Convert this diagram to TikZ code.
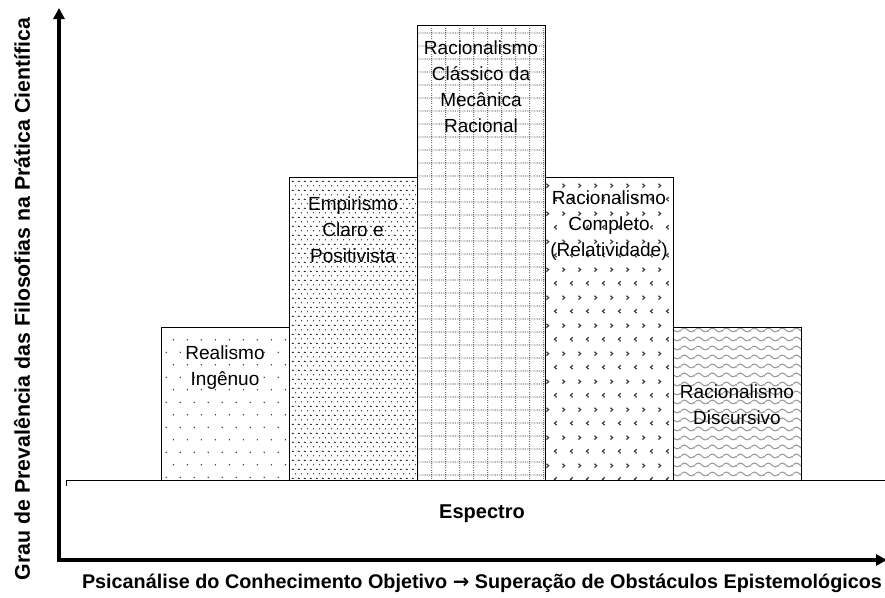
\documentclass[tikz,border=0pt]{standalone}
\usepackage{fontspec}
\setmainfont{Liberation Sans}
\newfontfamily\arrowfont{DejaVu Sans}
\usetikzlibrary{patterns.meta,arrows.meta}

% fill patterns for the five bars
\tikzdeclarepattern{
  name=sparsedots, type=colored,
  bottom left={(0pt,0pt)}, top right={(14.2pt,25.4pt)},
  tile size={(14.2pt,25.4pt)},
  code={
    \path[fill=black!80] (3.55pt,6.35pt) circle[radius=0.8pt]
                         (10.65pt,19.05pt) circle[radius=0.8pt];
  }
}
\tikzdeclarepattern{
  name=densedots, type=colored,
  bottom left={(0pt,0pt)}, top right={(6.4pt,9.4pt)},
  tile size={(6.4pt,9.4pt)},
  code={
    \path[fill=black!85] (1.6pt,2.35pt) circle[radius=0.75pt]
                         (4.8pt,7.05pt) circle[radius=0.75pt];
  }
}
\tikzdeclarepattern{
  name=dotgrid, type=colored,
  bottom left={(0pt,0pt)}, top right={(14.2pt,13pt)},
  tile size={(14.2pt,13pt)},
  code={
    \path[draw=black!85, line width=0.9pt, dash pattern=on 0.9pt off 1.1pt]
      (0pt,6.5pt) -- (14.2pt,6.5pt);
    \path[draw=black!85, line width=0.9pt, dash pattern=on 0.9pt off 1.267pt]
      (7.1pt,0pt) -- (7.1pt,13pt);
  }
}
\tikzdeclarepattern{
  name=chevrons, type=colored,
  bottom left={(0pt,0pt)}, top right={(16pt,28pt)},
  tile size={(16pt,28pt)},
  code={
    \path[draw=black!75, line width=1.2pt]
      (2.5pt,23pt) -- (5pt,21pt) -- (2.5pt,19pt)
      (13.5pt,9pt) -- (11pt,7pt) -- (13.5pt,5pt);
  }
}
\tikzdeclarepattern{
  name=waves, type=colored,
  bottom left={(0pt,0pt)}, top right={(14.2pt,8.5pt)},
  tile size={(14.2pt,8.5pt)},
  code={
    \path[draw=black!40, line width=1.1pt]
      (0pt,4.25pt) sin (3.55pt,6.25pt) cos (7.1pt,4.25pt)
      sin (10.65pt,2.25pt) cos (14.2pt,4.25pt);
  }
}

\tikzset{
  bar/.style={draw=black, line width=0.8pt, inner sep=0pt,
    minimum width=128pt, anchor=north west},
  bartext/.style={align=center, inner sep=0pt,
    font=\fontsize{19}{26}\selectfont},
  axis/.style={line width=4pt, line join=miter,
    {Triangle[length=11pt,width=11pt]}-{Triangle[length=11pt,width=11pt]}},
  baseline/.style={line width=0.8pt},
  axislabel/.style={inner sep=0pt, font=\bfseries\fontsize{19.8}{22}\selectfont},
}

\begin{document}
\begin{tikzpicture}[x=1pt, y=-1pt]
  \useasboundingbox (0,0) rectangle (885,597);

  % bars
  \node[bar, pattern=sparsedots, minimum height=153pt] (b1) at (161,327) {};
  \node[bar, pattern=densedots,  minimum height=303pt] (b2) at (289,177) {};
  \node[bar, pattern=dotgrid,    minimum height=455pt] (b3) at (417,25)  {};
  \node[bar, pattern=chevrons,   minimum height=303pt] (b4) at (545,177) {};
  \node[bar, pattern=waves,      minimum height=153pt] (b5) at (673,327) {};

  % bar captions
  \node[bartext] (t1) at (225,368) {Realismo\\Ingênuo};
  \node[bartext] (t2) at (353,230) {Empirismo\\Claro e\\Positivista};
  \node[bartext] (t3) at (481,87)  {Racionalismo\\Clássico da\\Mecânica\\Racional};
  \node[bartext] (t4) at (609,226) {Racionalismo\\Completo\\(Relatividade)};
  \node[bartext] (t5) at (737,404.5) {Racionalismo\\Discursivo};

  % spectrum base line
  \coordinate (s0) at (66,486);
  \coordinate (s1) at (66,480);
  \coordinate (s2) at (886,480);
  \draw[baseline] (s0) -- (s1) -- (s2);
  \node[axislabel, font=\bfseries\fontsize{20}{22}\selectfont] (spec) at (482,514) {Espectro};

  % axes
  \coordinate (ytip) at (59,8);
  \coordinate (corner) at (59,560);
  \coordinate (xtip) at (887,560);
  \draw[axis] (ytip) -- (corner) -- (xtip);

  \node[axislabel] (xlab) at (482,583)
    {Psicanálise do Conhecimento Objetivo {\arrowfont\bfseries →} Superação de Obstáculos Epistemológicos};
  \node[axislabel, rotate=90, font=\bfseries\fontsize{21.3}{23}\selectfont] (ylab) at (22,299)
    {Grau de Prevalência das Filosofias na Prática Científica};
\end{tikzpicture}
\end{document}
